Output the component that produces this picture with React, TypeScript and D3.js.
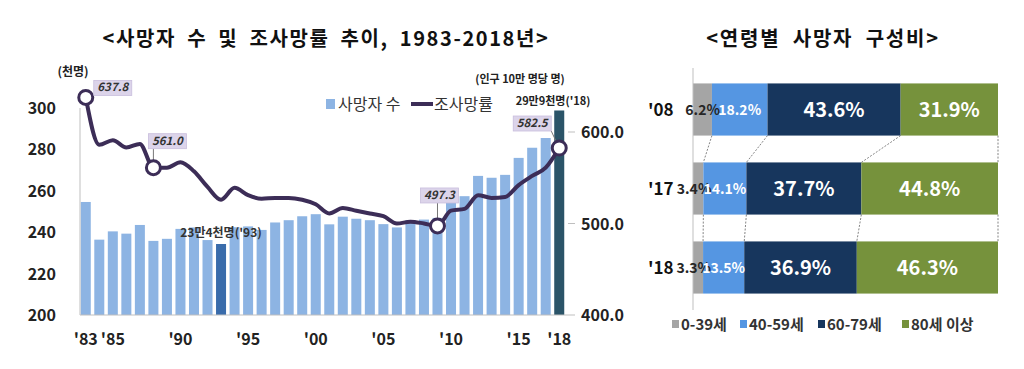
import React from 'react';
import * as d3 from 'd3';

const years = ['1983', '1984', '1985', '1986', '1987', '1988', '1989', '1990', '1991', '1992', '1993', '1994',
    '1995', '1996', '1997', '1998', '1999', '2000', '2001', '2002', '2003', '2004', '2005', '2006',
    '2007', '2008', '2009', '2010', '2011', '2012', '2013', '2014', '2015', '2016', '2017', '2018'];

// 사망자 수 (천명)
const deaths = [254.6, 236.4, 240.4, 239.3, 243.5, 235.8, 236.8, 241.6, 242.3, 236.2, 234.3, 242.4,
    242.8, 241.1, 244.7, 245.8, 247.7, 248.7, 243.8, 247.5, 246.5, 245.8, 243.9, 242.3,
    245.9, 246.1, 246.9, 255.4, 257.4, 267.2, 266.3, 267.7, 275.9, 280.8, 285.5, 298.8];

// 조사망률 (인구 10만 명당 명)
const rates = [637.8, 586, 591, 583, 587, 561.0, 561, 567, 557, 540, 526, 539,
    531, 527, 528, 528, 526, 521, 511, 517, 514, 511, 508, 500,
    502, 500, 497.3, 514, 516, 531, 528, 529, 542, 552, 561, 582.5];

const xTickYears = ['1983', '1985', '1990', '1995', '2000', '2005', '2010', '2015', '2018'];
const leftTicks = [200, 220, 240, 260, 280, 300];
const rightTicks = [400, 500, 600];
const calloutYears = ['1983', '1988', '2009', '2018'];

// 연령별 사망자 구성비 (%)
const rowYears = ["'08", "'17", "'18"];
const ageGroups = ['0-39세', '40-59세', '60-79세', '80세 이상'];
const shares = [
    [6.2, 18.2, 43.6, 31.9],
    [3.4, 14.1, 37.7, 44.8],
    [3.3, 13.5, 36.9, 46.3],
];

const FONT = '"Noto Sans CJK KR", "Noto Sans", sans-serif';
const BAR = '#8db4e3';
const BAR_93 = '#3a6cab';
const BAR_18 = '#2b5468';
const LINE = '#3c2d57';
const AGE_COLORS = ['#a5a5a5', '#5596e2', '#17365d', '#76923c'];

// callout box placement relative to its marker: [left, bottom]
const calloutOffset: Record<string, [number, number]> = {
    '1983': [8, -2],
    '1988': [-5, -19],
    '2009': [-17, -23],
    '2018': [-46, -17],
};
const BOX_W = 38;
const BOX_H = 15;

const App = () => {
    const x = d3.scaleBand().domain(years).range([79, 566]).paddingInner(0.26).paddingOuter(0.13);
    const yL = d3.scaleLinear().domain([200, 300]).range([315, 108]);
    const yR = d3.scaleLinear().domain([400, 600]).range([315, 132]);
    const cx = (yr: string) => (x(yr) as number) + x.bandwidth() / 2;

    const line = d3.line<number>()
        .x((_, i) => cx(years[i]))
        .y(d => yR(d))
        .curve(d3.curveMonotoneX);

    const barColor = (yr: string) => yr === '1993' ? BAR_93 : yr === '2018' ? BAR_18 : BAR;

    // right chart
    const yB = d3.scaleBand().domain(rowYears).range([70, 307]).paddingInner(0.34).paddingOuter(0.17);
    const xP = d3.scaleLinear().domain([0, 100]).range([693, 998]);
    const stacks = shares.map(row => {
        const total = d3.sum(row);
        let acc = 0;
        return row.map(v => {
            const s = acc;
            acc += v / total * 100;
            return [s, acc];
        });
    });

    return (
        <svg width={1024} height={369} style={{position: 'absolute', left: 0, top: 0, fontFamily: FONT}}>
            <rect width={1024} height={369} fill="#fff"/>

            {/* titles */}
            <text x={326} y={46} textAnchor="middle" fontSize={20} fontWeight="bold" fill="#111"
                  letterSpacing={1.6} wordSpacing={5}>
                {'<사망자 수 및 조사망률 추이, 1983-2018년>'}
            </text>
            <text x={823} y={46} textAnchor="middle" fontSize={20} fontWeight="bold" fill="#111"
                  letterSpacing={1.8} wordSpacing={6}>
                {'<연령별 사망자 구성비>'}
            </text>

            {/* left chart */}
            <text x={73} y={76} textAnchor="middle" fontSize={12} fontWeight="bold" fill="#222">(천명)</text>
            <text x={520} y={83} textAnchor="middle" fontSize={11} fontWeight="bold" fill="#222">(인구 10만 명당 명)</text>

            {deaths.map((d, i) => (
                <rect key={years[i]} x={x(years[i])} y={yL(d)} width={x.bandwidth()}
                      height={yL(200) - yL(d)} fill={barColor(years[i])}/>
            ))}

            <line x1={80} x2={80} y1={108} y2={315} stroke="#bfbfbf"/>
            <line x1={80} x2={568} y1={315} y2={315} stroke="#bfbfbf"/>
            {leftTicks.map(t => (
                <text key={t} x={56} y={yL(t) + 6} textAnchor="end" fontSize={16} fontWeight="bold" fill="#222">{t}</text>
            ))}
            {rightTicks.map(t => (
                <g key={t}>
                    <line x1={568} x2={575} y1={yR(t)} y2={yR(t)} stroke="#bfbfbf"/>
                    <text x={581} y={yR(t) + 6} fontSize={16} fontWeight="bold" fill="#222">{t.toFixed(1)}</text>
                </g>
            ))}
            {xTickYears.map(yr => (
                <text key={yr} x={cx(yr)} y={345} textAnchor="middle" fontSize={16} fontWeight="bold" fill="#222">
                    {"'" + yr.slice(2)}
                </text>
            ))}

            <text x={cx('1993')} y={237} textAnchor="middle" fontSize={12} fontWeight="bold" fill="#333">23만4천명('93)</text>
            <text x={553} y={105} textAnchor="middle" fontSize={11} fontWeight="bold" fill="#222">29만9천명('18)</text>

            <path d={line(rates) || ''} fill="none" stroke={LINE} strokeWidth={4} strokeLinejoin="round"/>

            {calloutYears.map(yr => {
                const i = years.indexOf(yr);
                const px = cx(yr), py = yR(rates[i]);
                const [dx, dy] = calloutOffset[yr];
                const bx = px + dx, bb = py + dy;
                const ex = Math.max(bx, Math.min(px, bx + BOX_W));
                const ey = Math.max(bb - BOX_H, Math.min(py, bb));
                return (
                    <g key={yr}>
                        <line x1={px} y1={py} x2={ex} y2={ey} stroke="#777" strokeWidth={1}/>
                        <circle cx={px} cy={py} r={7} fill="#fff" stroke={LINE} strokeWidth={3}/>
                        <rect x={bx} y={bb - BOX_H} width={BOX_W} height={BOX_H} fill="#dcd4ea"
                              stroke="#c9bedd" strokeWidth={0.8}/>
                        <text x={bx + BOX_W / 2} y={bb - 4} textAnchor="middle" fontSize={11.5} fontWeight="bold"
                              fontStyle="italic" fill="#333">{rates[i].toFixed(1)}</text>
                    </g>
                );
            })}

            {/* legend */}
            <rect x={326} y={99} width={9} height={10} fill={BAR}/>
            <text x={338} y={110} fontSize={16} fill="#333">사망자 수</text>
            <line x1={411} x2={433} y1={104} y2={104} stroke={LINE} strokeWidth={4}/>
            <text x={434} y={110} fontSize={16} fill="#333">조사망률</text>

            {/* right chart */}
            {stacks.slice(0, -1).map((row, r) => {
                const next = stacks[r + 1];
                const yb = (yB(rowYears[r]) as number) + yB.bandwidth();
                const yt = yB(rowYears[r + 1]) as number;
                return row.map((seg, k) => (
                    <line key={r + '-' + k} x1={xP(seg[1])} y1={yb} x2={xP(next[k][1])} y2={yt}
                          stroke="#666" strokeWidth={0.8} strokeDasharray="2,1.5"/>
                ));
            })}
            {stacks.map((row, r) => row.map((seg, k) => (
                <rect key={r + '-' + k} x={xP(seg[0])} y={yB(rowYears[r])} width={xP(seg[1]) - xP(seg[0])}
                      height={yB.bandwidth()} fill={AGE_COLORS[k]}/>
            )))}
            <line x1={693} x2={693} y1={68} y2={310} stroke="#bfbfbf"/>

            {rowYears.map((ry, r) => {
                const cy = (yB(ry) as number) + yB.bandwidth() / 2;
                const row = stacks[r];
                return (
                    <g key={ry}>
                        <text x={648} y={cy + 6} fontSize={17} fontWeight="bold" fill="#111">{ry}</text>
                        <text x={xP(row[0][1]) + 8} y={cy + 5} textAnchor="end" fontSize={14} fontWeight="bold"
                              fill="#262626">{shares[r][0].toFixed(1)}%</text>
                        {row.slice(1).map((seg, k) => (
                            <text key={k} x={(xP(seg[0]) + xP(seg[1])) / 2} y={cy + (k === 0 ? 5 : 7)}
                                  textAnchor="middle" fontSize={k === 0 ? 14 : 20} fontWeight="bold" fill="#fff">
                                {shares[r][k + 1].toFixed(1)}%
                            </text>
                        ))}
                    </g>
                );
            })}

            {/* right legend */}
            {ageGroups.map((g, k) => {
                const lx = [672, 740, 818, 902][k];
                return (
                    <g key={g}>
                        <rect x={lx} y={320} width={7} height={8} fill={AGE_COLORS[k]}/>
                        <text x={lx + 9} y={330} fontSize={15} fontWeight="bold" fill="#333">{g}</text>
                    </g>
                );
            })}
        </svg>
    );
};

export default App;
